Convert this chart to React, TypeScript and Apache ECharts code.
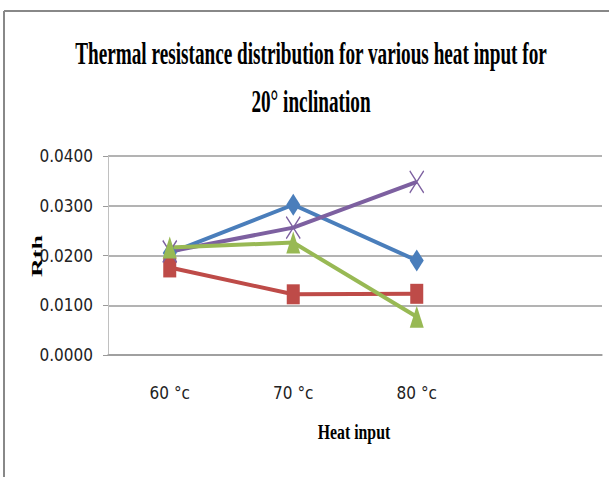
import React, { useEffect, useRef } from "react";
import * as echarts from "echarts";

const categories = ["60 °c", "70 °c", "80 °c", ""];
const seriesBlue = [0.0205, 0.0302, 0.019, null];
const seriesRed = [0.0176, 0.0122, 0.0123, null];
const seriesGreen = [0.0216, 0.0226, 0.0077, null];
const seriesPurple = [0.0208, 0.0256, 0.0348, null];
const yTicks = { min: 0, max: 0.04, interval: 0.01 };

const titleLine1 = "Thermal resistance distribution for various heat input for";
const titleLine2 = "20° inclination";
const xName = "Heat input";
const yName = "Rth";

const crossPath = "path://M0,0 L10,10 M10,0 L0,10";

export default function App() {
  const ref = useRef<HTMLDivElement>(null);
  useEffect(() => {
    if (!ref.current) return;
    const chart = echarts.init(ref.current, undefined, { renderer: "svg" });
    const lineW = 4;
    const serif = "'Liberation Serif', 'Times New Roman', serif";
    const narrow = "'DejaVu Sans Condensed', 'Liberation Sans', sans-serif";
    chart.setOption({
      animation: false,
      backgroundColor: "#ffffff",
      grid: { left: 108, right: 7, top: 156, bottom: 122, containLabel: false },
      xAxis: {
        type: "category",
        data: categories,
        boundaryGap: true,
        axisLine: { show: true, lineStyle: { color: "#9a9a9a", width: 1.5 } },
        axisTick: { show: false },
        axisLabel: { margin: 29, fontFamily: narrow, fontSize: 17, color: "#222" },
        splitLine: { show: false },
      },
      yAxis: {
        type: "value",
        min: yTicks.min,
        max: yTicks.max,
        interval: yTicks.interval,
        axisLine: { show: true, lineStyle: { color: "#c0c0c0", width: 1 } },
        axisTick: { show: true, length: 5, lineStyle: { color: "#9a9a9a" } },
        axisLabel: {
          margin: 15,
          fontFamily: narrow,
          fontSize: 17,
          color: "#222",
          formatter: (v: number) => v.toFixed(4),
        },
        splitLine: { show: true, lineStyle: { color: "#9a9a9a", width: 1.5 } },
      },
      series: [
        {
          type: "line",
          data: seriesBlue,
          symbol: "diamond",
          symbolSize: [14, 22],
          lineStyle: { color: "#4a7ebb", width: lineW },
          itemStyle: { color: "#4a7ebb" },
        },
        {
          type: "line",
          data: seriesRed,
          symbol: "rect",
          symbolSize: [13, 20],
          lineStyle: { color: "#be4b48", width: lineW },
          itemStyle: { color: "#be4b48" },
        },
        {
          type: "line",
          data: seriesPurple,
          symbol: crossPath,
          symbolSize: [14, 22],
          symbolKeepAspect: false,
          lineStyle: { color: "#7d60a0", width: lineW },
          itemStyle: { color: "none", borderColor: "#7d60a0", borderWidth: 1.5 },
        },
        {
          type: "line",
          data: seriesGreen,
          symbol: "triangle",
          symbolSize: [14, 22],
          lineStyle: { color: "#98b954", width: lineW },
          itemStyle: { color: "#98b954" },
        },
      ],
      graphic: [
        {
          type: "line",
          shape: { x1: 4, y1: 11, x2: 609, y2: 11 },
          style: { stroke: "#888888", lineWidth: 2 },
        },
        {
          type: "line",
          shape: { x1: 4, y1: 11, x2: 4, y2: 477 },
          style: { stroke: "#888888", lineWidth: 2 },
        },
        {
          type: "text",
          x: 311,
          y: 54,
          scaleX: 0.62,
          style: {
            text: titleLine1,
            fontFamily: serif,
            fontWeight: "bold",
            fontSize: 31,
            fill: "#000",
            align: "center",
            verticalAlign: "middle",
          },
        },
        {
          type: "text",
          x: 311,
          y: 102,
          scaleX: 0.62,
          style: {
            text: titleLine2,
            fontFamily: serif,
            fontWeight: "bold",
            fontSize: 31,
            fill: "#000",
            align: "center",
            verticalAlign: "middle",
          },
        },
        {
          type: "text",
          x: 354,
          y: 432,
          scaleX: 0.79,
          style: {
            text: xName,
            fontFamily: serif,
            fontWeight: "bold",
            fontSize: 20,
            fill: "#000",
            align: "center",
            verticalAlign: "middle",
          },
        },
        {
          type: "group",
          x: 37,
          y: 256,
          rotation: Math.PI / 2,
          children: [
            {
              type: "text",
              x: 0,
              y: 0,
              scaleY: 0.6,
              style: {
                text: yName,
                fontFamily: serif,
                fontWeight: "bold",
                fontSize: 26,
                fill: "#000",
                align: "center",
                verticalAlign: "middle",
              },
            },
          ],
        },
      ],
    });
    return () => chart.dispose();
  }, []);
  return (
    <div
      ref={ref}
      style={{ position: "fixed", left: 0, top: 0, width: 609, height: 477 }}
    />
  );
}
